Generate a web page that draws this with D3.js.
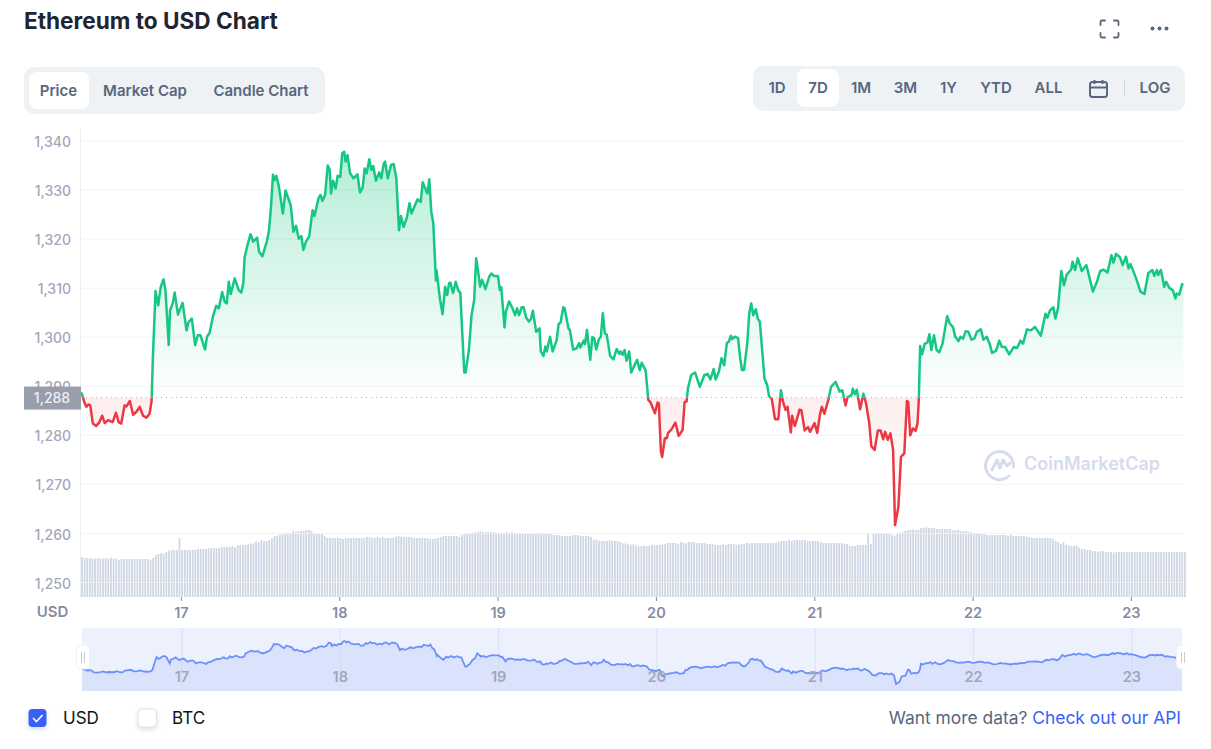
<!DOCTYPE html>
<html lang="en">
<head>
<meta charset="UTF-8">
<title>Ethereum to USD Chart</title>
<script src="https://cdn.jsdelivr.net/npm/d3@7"></script>
<style>
  body { margin: 0; background: #fff; }
  svg { display: block; }
  text { font-family: Inter, sans-serif; }
</style>
</head>
<body>
<svg id="main" width="1211" height="749"></svg>
<script>
// hours since the first sample (16th, 08:51 UTC)
const priceHours = [
  0,.2,.5,.8,1.1,1.4,1.8,2.3,2.8,3.2,
  3.6,4.1,4.8,5.3,5.7,6.1,6.6,6.9,7.4,7.9,
  8.4,8.9,9.4,9.9,10.4,10.7,10.9,11.3,11.7,12.1,
  12.5,12.8,13.3,13.5,13.9,14.2,14.7,15.4,16,16.3,
  16.8,17.3,17.7,18.1,18.8,19.1,19.5,20,20.5,20.9,
  21.4,21.8,22.1,22.4,22.7,23.3,23.9,24.3,24.6,24.8,
  25.3,25.7,26.1,26.7,27,27.5,28.2,28.5,28.8,29.1,
  29.3,29.6,30,30.6,31,31.8,32.2,32.6,33,33.4,
  33.7,34.1,34.6,35.1,35.4,36,36.3,36.6,37,37.4,
  37.7,37.9,38.2,38.6,38.9,39.3,39.6,39.9,40.1,40.4,
  40.8,41.3,41.9,42.3,42.7,43,43.3,43.7,44,44.3,
  44.7,45.2,45.5,45.9,46.1,46.5,47,47.4,47.8,48.2,
  48.5,48.9,49.4,49.8,50.1,51,51.5,51.8,52.5,52.8,
  53.1,53.4,53.8,53.9,54.4,54.8,55.2,55.5,55.8,56,
  56.4,56.8,57.2,57.5,57.8,58.1,58.3,58.8,59.2,59.6,
  59.9,60.2,60.5,60.8,61.3,61.9,62.2,62.6,63.2,63.5,
  63.7,64.2,64.4,64.9,65.4,65.8,66.1,66.4,66.8,67.1,
  67.5,67.9,68.2,68.5,69,69.5,69.7,70.1,70.4,70.6,
  71.1,71.5,72.1,72.4,72.7,73.1,73.3,73.9,74.1,74.6,
  75.1,75.5,75.7,76.2,76.4,76.7,77.2,77.5,77.8,78.1,
  78.5,78.8,79.1,79.4,79.7,80.2,80.7,81.2,81.6,81.8,
  82.1,82.4,82.7,83.1,83.4,83.8,84.3,84.7,85,85.6,
  86,86.3,87,87.4,87.6,87.9,88.1,88.5,88.8,89,
  89.3,89.6,90.1,90.6,91.2,91.5,91.8,92,92.5,93.1,
  93.8,94.5,95,95.4,95.9,96.2,96.7,97.1,97.5,97.9,
  98.2,98.5,98.7,99.1,99.6,99.9,100.2,100.5,101,101.3,
  101.6,101.9,102.3,102.6,102.9,103.3,103.6,104,104.3,104.7,
  105.2,105.7,106.1,106.4,106.8,107.1,107.6,107.8,108.2,108.7,
  108.9,109.2,109.7,110.2,110.5,111.2,111.6,112,112.3,112.7,
  113.3,113.7,114.4,115,115.4,115.9,116.2,116.8,117,117.3,
  117.6,118.1,118.6,119,119.5,119.8,120.3,120.8,121.2,121.6,
  121.9,122.3,122.7,123.1,123.4,123.9,124.3,124.8,125.2,125.4,
  125.7,126.1,126.5,126.8,127,127.2,127.5,127.9,128.3,128.6,
  128.9,129.3,129.7,130.1,130.6,131.3,131.7,132.2,132.5,133,
  133.3,133.7,134.1,134.5,135,135.4,135.8,136.4,136.8,137.3,
  137.8,138.1,138.7,139.2,139.6,140.1,140.7,141.4,141.9,142.4,
  142.8,143.4,144,144.6,145.5,146.2,146.5,146.9,147.4,147.7,
  148.1,148.6,149,149.4,150.1,150.3,150.7,151.1,151.7,152.4,
  153.4,154,154.5,155,155.6,156.2,156.5,156.9,157.5,157.9,
  158.4,158.8,159.1,160,160.6,161.2,161.8,162.4,162.7,163.1,
  163.3,163.7,164.2,164.5,165,165.5,165.9,166.1,166.5,166.9,
  167.1
];
const priceValues = [
  1288.8,1288.2,1286.8,1285.8,1286.3,1286.1,1282.4,1281.9,1282.7,1284,
  1282.5,1283.1,1282.7,1284.6,1282.7,1282.4,1286.1,1285.9,1287,1284.2,
  1284.8,1285.8,1284,1283.6,1284.4,1287,1296,1309.4,1306.5,1310.3,
  1311.8,1309.6,1298.4,1305.5,1306.9,1309.1,1304.6,1307,1301.4,1303.1,
  1303.8,1298.4,1300.4,1300.4,1297.5,1300.1,1300.9,1304.2,1306.4,1305.9,
  1309.2,1307.2,1306.9,1311.3,1308.8,1312,1309.6,1309.1,1311,1316.3,
  1319.1,1321,1319.5,1320.3,1317.4,1316.5,1319.7,1321.8,1326.6,1333.1,
  1332,1332.9,1330.7,1325.2,1329.9,1326.9,1321.5,1322.7,1320.1,1320.6,
  1317.8,1319.5,1320.6,1325.9,1324.7,1328.3,1329,1327.8,1329,1335,
  1334.1,1329.3,1331.9,1330.3,1332.9,1332.7,1337.5,1337.8,1335.8,1337.1,
  1333.4,1332.4,1333.2,1329.5,1330.5,1334.4,1333.4,1336.3,1334.1,1334.9,
  1331.9,1333.6,1332.4,1335.4,1335.8,1332.4,1335.1,1335.3,1332.4,1321.8,
  1324.7,1322.5,1324.4,1327.3,1325.2,1328.1,1327.6,1331.6,1329.3,1332.2,
  1325.6,1323.2,1311.6,1313.6,1307.9,1304.7,1310.3,1308.6,1311,1311.1,
  1309,1311.3,1309.5,1309.1,1300.8,1292.8,1292.8,1297.4,1304.5,1307.6,
  1316.1,1313.4,1310.3,1311.7,1309.8,1312.4,1313,1312.5,1312.5,1309.6,
  1310.2,1302,1305.2,1307.3,1305.9,1304.5,1305.9,1304.5,1306.1,1306.1,
  1303.9,1303.2,1303.7,1305.4,1301.1,1301.8,1297.1,1296.2,1298.1,1297.1,
  1300.1,1297.1,1299.4,1302.7,1303,1306.1,1305.9,1301.8,1301.5,1297.5,
  1297.7,1298.8,1297.9,1299.3,1298.6,1301.5,1295.4,1300,1299.8,1297.5,
  1299.6,1300.1,1304.9,1300.8,1300.5,1296.2,1295.5,1297.6,1296.6,1297.1,
  1296.4,1297.4,1295.2,1297.1,1292.8,1294,1295.4,1293.3,1294.8,1293.2,
  1287.2,1286.8,1284.5,1286.7,1286.5,1276.7,1275.6,1279.4,1279.4,1280.5,
  1280.9,1281.4,1282.6,1279.9,1281.1,1286.8,1286.9,1289.6,1292.3,1292.8,
  1289.9,1292.3,1292.5,1291.4,1293.5,1291.4,1293,1295.7,1294.3,1298.8,
  1299.1,1300.3,1299.6,1300.1,1299.8,1296,1293.3,1293.3,1298.8,1304.9,
  1306.9,1304.5,1305.7,1303.7,1303.2,1296.7,1291.6,1290.3,1288,1287.5,
  1283.3,1283.3,1289.2,1286.9,1285.2,1285.8,1280.6,1284,1281.9,1284.1,
  1285.2,1285.1,1281,1281.7,1280.7,1282.5,1280.5,1284.1,1285.8,1284.4,
  1287.3,1289.9,1290.9,1288.9,1289.2,1286.1,1287.8,1288.2,1289.5,1288.4,
  1289.3,1285.3,1288.5,1286.5,1282.4,1277.8,1277,1281,1281,1279.2,
  1280.7,1279.1,1280.4,1277,1261.7,1265.4,1275.6,1276.3,1287,1286.8,
  1280,1281.4,1280.9,1282.4,1287.2,1298.2,1296.5,1298.7,1298.9,1300.6,
  1297.4,1300.4,1297.4,1296.9,1298.7,1304.3,1302.8,1302,1300.2,1299.2,
  1300.1,1299.7,1301.2,1301.1,1299.5,1299.7,1301.1,1301.6,1299.5,1300.1,
  1298.4,1296.8,1297.2,1299.3,1298,1298,1296.5,1298,1297.8,1299.3,
  1298.7,1301.6,1301.4,1302.1,1300.3,1304.8,1304,1305.5,1306.1,1303.8,
  1305.9,1313.5,1310.6,1312.7,1313.8,1315.4,1313.7,1316.1,1313.5,1314.7,
  1309.3,1311.3,1313.5,1313.8,1313.2,1316.7,1315.2,1317,1316.3,1314.7,
  1316.4,1314,1314.9,1311.8,1309.3,1308.8,1313.1,1313.7,1312.5,1313.7,
  1312.7,1313.7,1310.3,1311.3,1310,1309.6,1307.9,1308.9,1308.7,1310.8,
  1310.6
];
// volume in $B, one bar every 24 minutes from the first sample
const volumeValues = [
  10,9.75,9.75,9.75,9.6,9.6,9.75,9.6,9.6,9.75,
  9.6,9.75,9.6,9.6,9.25,9.5,9.5,9.5,9.5,9.5,
  9.5,9.5,9.5,9.5,9.5,9.5,9.25,9.8,10.5,10.75,
  10.9,10.8,11.2,11.6,11.75,11.75,11.75,14.75,11.75,11.75,
  11.75,11.75,11.75,11.8,12,12,12,12,12.2,12.2,
  12.2,12.2,12.2,12.5,12.5,12.5,12.5,12.75,12.4,13,
  13,13,13,13.2,13.4,13.4,13.9,13.7,14.2,14,
  14,14.25,14.7,15.2,15.3,15.5,15.7,15.9,16.1,15.9,
  16.4,16.25,16.4,16.5,16.5,16.75,16.75,16.5,16,15.8,
  15.75,15.75,15.25,14.75,14.75,14.75,14.75,14.75,14.75,14.5,
  14.7,14.7,14.75,14.75,14.75,14.75,14.75,14.75,15,15,
  14.75,14.75,15,14.75,15,14.75,14.75,14.75,14.75,15,
  15.25,15.1,15,15,15,15,14.75,14.75,14.75,14.75,
  14.75,14.75,14.5,14.5,14.7,14.75,15,15.25,15.25,15.25,
  15.25,15.25,15.25,15,15.5,15.7,15.75,15.9,15.9,16.25,
  16.25,16.5,16.25,16.25,16.25,16.2,16.25,16,16,16,
  16,16.25,16,16.25,16,16,16,15.75,15.75,15.75,
  15.75,15.75,15.75,16,16,16,15.75,15.75,15.75,15.5,
  15.5,15.5,15.25,15.25,15.25,15.25,15.5,15.5,15.5,15.25,
  15.25,15.25,15.25,15,14.25,14.4,14,14,14,14,
  14.25,14,14,14,13.7,13.4,13.4,13.2,13.1,13.2,
  12.9,12.75,12.8,12.75,12.75,12.75,13,13,13,13,
  13.2,13.25,13.5,13.5,13.5,13.5,13.25,13.7,13.5,13.4,
  13.75,13.75,13.75,13.5,13.5,13.5,13.5,13.25,13.25,13.25,
  13,13,13,13.2,13,13.25,13.25,13.25,13,13.2,
  13.2,13.25,13.5,13.4,13.5,13.5,13.5,13.5,13.5,13.5,
  13.5,13.5,13.5,13.6,13.75,14,14,14,14.25,14,
  14.25,14.25,14.25,14.25,14.25,14,14,14,14,14,
  13.75,13.5,13.5,13.5,13.5,13.5,13.5,13.5,13.5,13.25,
  13.25,12.75,12.75,12.75,13,13,13,13,15.75,13.2,
  15.75,15.9,16,16,15.75,15.75,15.75,15.6,15.3,16,
  16,16.2,16.5,16.7,16.75,16.9,16.75,16.75,17.2,17.3,
  17.4,17.25,17.25,17.25,17,17,17,17,17,17,
  16.7,16.7,16.75,16.5,16.5,16.5,16.3,16.2,16,16,
  15.75,15.75,15.75,15.5,15.5,15.5,15.5,15.5,15.5,15.5,
  15.5,15.25,15.5,15.25,15.25,15.25,15.25,15.25,15.1,15,
  14.75,14.75,14.75,14.75,14.75,14.75,14.75,14.75,14.5,14,
  13.75,13.3,13.7,13,12.9,12.75,12.75,12.75,12.4,12,
  12,11.75,11.75,11.5,11.5,11.3,11.5,11.4,11.25,11.25,
  11.25,11.1,11.25,11.25,11.25,11.25,11.25,11.25,11.25,11.25,
  11.25,11.25,11.25,11.25,11.25,11.25,11.25,11.25,11.25,11.25,
  11.25,11.25,11.25,11.25,11.25,11.25,11.25,11.25,11.25
];
const yTicks = [1250,1260,1270,1280,1290,1300,1310,1320,1330,1340];
const tickDays = [17,18,19,20,21,22,23];
const basePrice = 1287.7;
const baseLabel = "1,288";
const chartTabs = ["Price","Market Cap","Candle Chart"];
const rangeTabs = ["1D","7D","1M","3M","1Y","YTD","ALL"];

const svg = d3.select("svg#main");
const green = "#16c784", red = "#ea3943", slate = "#58667e", tickGrey = "#a1a7bb";

const startTime = Date.UTC(2022, 9, 16, 8, 51);
const toDate = h => new Date(startTime + h * 3600000);
const dayTicks = tickDays.map(d => new Date(Date.UTC(2022, 9, d)));
const data = priceHours.map((h, i) => ({date: toDate(h), value: priceValues[i]}));

const domainX = [toDate(0), toDate(167.2)];
const x = d3.scaleUtc().domain(domainX).range([81, 1184]);
const y = d3.scaleLinear().domain([1250, 1340]).range([582.5, 141]);
const yVol = d3.scaleLinear().domain([0, 20]).range([597, 517]);
const navX = d3.scaleUtc().domain(domainX).range([82, 1185]);
const navY = d3.scaleLinear().domain([1260, 1340]).range([685, 640]);

const defs = svg.append("defs");
function gradient(id, color, y1, y2, o1, o2) {
  const g = defs.append("linearGradient").attr("id", id)
    .attr("gradientUnits", "userSpaceOnUse")
    .attr("x1", 0).attr("x2", 0).attr("y1", y1).attr("y2", y2);
  g.append("stop").attr("offset", 0).attr("stop-color", color).attr("stop-opacity", o1);
  g.append("stop").attr("offset", 1).attr("stop-color", color).attr("stop-opacity", o2);
}
gradient("fillUp", green, y(1340), y(basePrice), 0.33, 0);
gradient("fillDown", red, y(basePrice), y(1265), 0.09, 0);
defs.append("clipPath").attr("id", "clipUp").append("rect")
  .attr("x", 70).attr("y", 100).attr("width", 1130).attr("height", y(basePrice) - 100);
defs.append("clipPath").attr("id", "clipDown").append("rect")
  .attr("x", 70).attr("y", y(basePrice)).attr("width", 1130).attr("height", 300);
defs.append("clipPath").attr("id", "clipNav").append("rect")
  .attr("x", 82).attr("y", 628).attr("width", 1100).attr("height", 63);
defs.append("clipPath").attr("id", "clipHandles").append("rect")
  .attr("x", 70).attr("y", 628).attr("width", 1115).attr("height", 63);
const softShadow = defs.append("filter").attr("id", "softShadow")
  .attr("x", "-30%").attr("y", "-30%").attr("width", "160%").attr("height", "170%");
softShadow.append("feDropShadow").attr("dx", 0).attr("dy", 2).attr("stdDeviation", 2)
  .attr("flood-color", "#58667e").attr("flood-opacity", 0.22);

// header
svg.append("text").attr("x", 24).attr("y", 29).text("Ethereum to USD Chart")
  .attr("font-size", 22.6).attr("font-weight", 700).attr("fill", "#222531");

svg.append("path")
  .attr("d", "M1100.5 25v-3a1.5 1.5 0 0 1 1.5-1.5h3M1114 20.5h3a1.5 1.5 0 0 1 1.5 1.5v3M1118.500 33v3a1.500 1.500 0 0 1-1.500 1.500h-3M1105 37.500h-3a1.500 1.500 0 0 1-1.500-1.500v-3")
  .attr("fill", "none").attr("stroke", slate).attr("stroke-width", 1.8).attr("stroke-linecap", "round");
svg.selectAll("circle.dot").data([1152.5, 1159.5, 1166.5]).enter().append("circle")
  .attr("cx", d => d).attr("cy", 28.5).attr("r", 2).attr("fill", slate);

// tab groups
svg.append("rect").attr("x", 24).attr("y", 67).attr("width", 301).attr("height", 47).attr("rx", 10).attr("fill", "#eff2f5");
svg.append("rect").attr("x", 29).attr("y", 72).attr("width", 60).attr("height", 37).attr("rx", 8).attr("fill", "#fff");
svg.selectAll("text.tab").data(chartTabs).enter().append("text")
  .attr("x", (d, i) => [58.5, 145, 261][i]).attr("y", 95.5).attr("text-anchor", "middle")
  .attr("font-size", 15).attr("font-weight", 600).attr("fill", slate).text(d => d);

svg.append("rect").attr("x", 753).attr("y", 66).attr("width", 432).attr("height", 45).attr("rx", 10).attr("fill", "#eff2f5");
svg.append("rect").attr("x", 797).attr("y", 69).attr("width", 42).attr("height", 38).attr("rx", 8).attr("fill", "#fff");
svg.selectAll("text.range").data(rangeTabs).enter().append("text")
  .attr("x", (d, i) => [777, 818, 861, 905.5, 948.5, 996, 1048.5][i]).attr("y", 93)
  .attr("text-anchor", "middle").attr("font-size", 15).attr("font-weight", 600).attr("fill", slate).text(d => d);
svg.append("text").attr("x", 1155).attr("y", 93).attr("text-anchor", "middle")
  .attr("font-size", 15).attr("font-weight", 600).attr("fill", slate).text("LOG");
svg.append("line").attr("x1", 1124.5).attr("x2", 1124.5).attr("y1", 80).attr("y2", 96).attr("stroke", "#cfd6e4");
// calendar icon
svg.append("rect").attr("x", 1090).attr("y", 82).attr("width", 17).attr("height", 15).attr("rx", 2.5)
  .attr("fill", "none").attr("stroke", slate).attr("stroke-width", 2);
svg.append("path").attr("d", "M1090 87.5h17M1094.5 80v4M1102.5 80v4")
  .attr("stroke", slate).attr("stroke-width", 2).attr("fill", "none");

// volume bars
svg.append("g").selectAll("rect").data(volumeValues).enter().append("rect")
  .attr("x", (d, i) => x(toDate(i * 0.4)))
  .attr("y", d => yVol(d))
  .attr("width", d => 1.8)
  .attr("height", d => yVol(0) - yVol(d))
  .attr("fill", "#cfd6e4");

// grid and y axis
svg.append("g").selectAll("line").data(yTicks).enter().append("line")
  .attr("x1", 81).attr("x2", 1184)
  .attr("y1", d => y(d)).attr("y2", d => y(d))
  .attr("stroke", "#eff2f5").attr("stroke-opacity", 0.85);
svg.append("line").attr("x1", 80.5).attr("x2", 80.5).attr("y1", 128).attr("y2", 597).attr("stroke", "#eff2f5");

const yAxis = svg.append("g").attr("transform", "translate(80,0)")
  .call(d3.axisLeft(y).tickValues(yTicks).tickSize(0).tickPadding(9).tickFormat(d3.format(",")));
yAxis.select(".domain").remove();
yAxis.selectAll("text").attr("font-family", "Inter, sans-serif").attr("font-size", 14)
  .attr("font-weight", 500).attr("fill", tickGrey).attr("dy", "0.4em");

// price areas and line, split at the base price
const area = d3.area().x(d => x(d.date)).y0(y(basePrice)).y1(d => y(d.value));
const line = d3.line().x(d => x(d.date)).y(d => y(d.value));
svg.append("path").datum(data).attr("d", area).attr("fill", "url(#fillUp)").attr("clip-path", "url(#clipUp)");
svg.append("path").datum(data).attr("d", area).attr("fill", "url(#fillDown)").attr("clip-path", "url(#clipDown)");
[[green, "url(#clipUp)"], [red, "url(#clipDown)"]].forEach(function(s) {
  svg.append("path").datum(data).attr("d", line)
    .attr("fill", "none").attr("stroke", s[0]).attr("stroke-width", 2.5)
    .attr("stroke-linejoin", "round").attr("clip-path", s[1]);
});

// base price marker
svg.append("line").attr("x1", 81).attr("x2", 1184).attr("y1", y(basePrice)).attr("y2", y(basePrice))
  .attr("stroke", "#a6b0c3").attr("stroke-dasharray", "1 4");
svg.append("rect").attr("x", 24).attr("y", y(basePrice) - 11).attr("width", 57).attr("height", 23).attr("fill", "#989eab");
svg.append("text").attr("x", 52).attr("y", y(basePrice) + 5.5).attr("text-anchor", "middle")
  .attr("font-size", 14).attr("font-weight", 500).attr("fill", "#eef0f4").text(baseLabel);

// x axis
const xAxis = svg.append("g").attr("transform", "translate(0,597)")
  .call(d3.axisBottom(x).tickValues(dayTicks).tickSize(4).tickPadding(7).tickFormat(d3.utcFormat("%d")));
xAxis.select(".domain").remove();
xAxis.selectAll("line").attr("stroke", "#858ca2");
xAxis.selectAll("text").attr("font-family", "Inter, sans-serif").attr("font-size", 14.5)
  .attr("font-weight", 600).attr("fill", "#858ca2");
svg.append("text").attr("x", 52.5).attr("y", 617).attr("text-anchor", "middle")
  .attr("font-size", 15).attr("font-weight", 600).attr("fill", "#858ca2").text("USD");

// watermark
svg.append("path")
  .attr("d", "M1009 476a14 14 0 1 1 4.5-9M992 470l5-10 3 8 3-8 4 6 3-3")
  .attr("fill", "none").attr("stroke", "#d5dceb").attr("stroke-width", 3).attr("stroke-linecap", "round").attr("stroke-linejoin", "round");
svg.append("text").attr("x", 1024).attr("y", 470).attr("font-size", 18).attr("font-weight", 600)
  .attr("fill", "#d5dceb").text("CoinMarketCap");

// navigator
svg.append("rect").attr("x", 82).attr("y", 628).attr("width", 1100).attr("height", 63).attr("fill", "#edf1fe");
const navArea = d3.area().x(d => navX(d.date)).y0(691).y1(d => navY(d.value));
const navLine = d3.line().x(d => navX(d.date)).y(d => navY(d.value));
const nav = svg.append("g").attr("clip-path", "url(#clipNav)");
nav.append("path").datum(data).attr("d", navArea).attr("fill", "#dae2fc");
nav.selectAll("line").data(dayTicks).enter().append("line")
  .attr("x1", d => navX(d)).attr("x2", d => navX(d)).attr("y1", 628).attr("y2", 691)
  .attr("stroke", "#cfd6e4").attr("stroke-opacity", 0.6);
svg.append("path").datum(data).attr("d", navLine).attr("fill", "none")
  .attr("stroke", "#6d91fb").attr("stroke-width", 1.8);
svg.selectAll("text.navday").data(dayTicks).enter().append("text")
  .attr("x", d => navX(d)).attr("y", 682).attr("text-anchor", "middle")
  .attr("font-size", 14.5).attr("font-weight", 600).attr("fill", "#a1a7bb").text(d3.utcFormat("%d"));
const handles = svg.append("g").attr("clip-path", "url(#clipHandles)");
[83, 1183].forEach(function(cx) {
  handles.append("rect").attr("x", cx - 6.5).attr("y", 645).attr("width", 13).attr("height", 24).attr("rx", 4)
    .attr("fill", "#fff").attr("stroke", "#eef0f4");
  handles.append("path").attr("d", `M${cx - 1.5} 652v11M${cx + 1.5} 652v11`).attr("stroke", "#c3cad8");
});

// currency toggles
const toggles = svg.append("g");
toggles.append("rect").attr("x", 28.5).attr("y", 709).attr("width", 18).attr("height", 18).attr("rx", 4)
  .attr("fill", "#3861fb").attr("filter", "url(#softShadow)");
toggles.append("path").attr("d", "M33 718l3.5 3.5 6-6.5").attr("fill", "none").attr("stroke", "#fff").attr("stroke-width", 1.6);
toggles.append("rect").attr("x", 138).attr("y", 709).attr("width", 18.5).attr("height", 18).attr("rx", 4)
  .attr("fill", "#fff").attr("stroke", "#dde2ea").attr("filter", "url(#softShadow)");
svg.append("text").attr("x", 63).attr("y", 724).attr("font-size", 17).attr("fill", "#0d1421").text("USD");
svg.append("text").attr("x", 172).attr("y", 724).attr("font-size", 17).attr("fill", "#0d1421").text("BTC");

const more = svg.append("text").attr("x", 1181).attr("y", 724).attr("text-anchor", "end").attr("font-size", 17.4);
more.append("tspan").attr("fill", slate).text("Want more data? ");
more.append("tspan").attr("fill", "#3861fb").text("Check out our API");
</script>
</body>
</html>
